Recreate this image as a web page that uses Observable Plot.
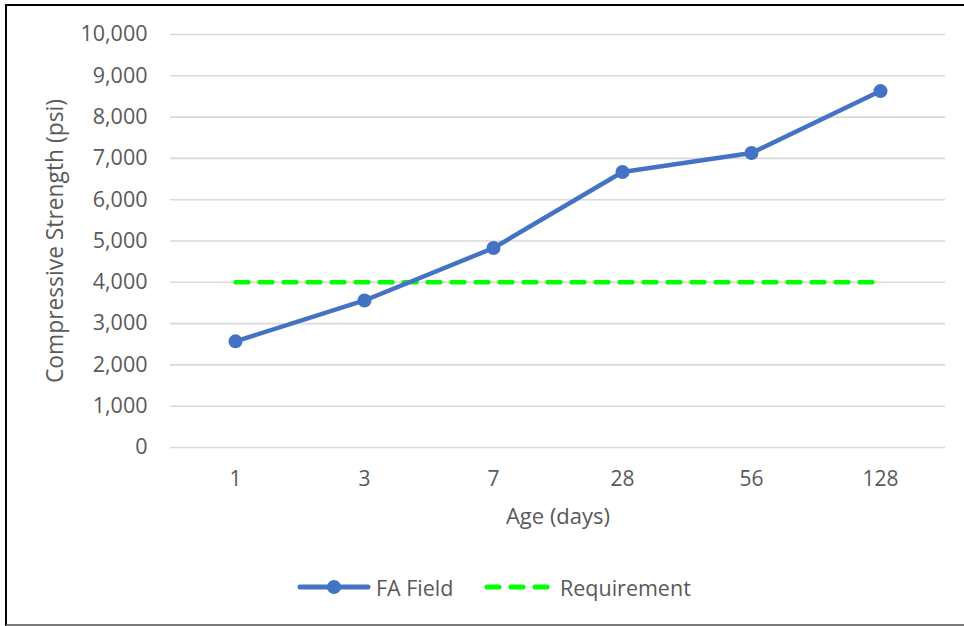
<!DOCTYPE html>
<html>
<head>
<meta charset="utf-8">
<script src="https://cdn.jsdelivr.net/npm/d3@7"></script>
<script src="https://cdn.jsdelivr.net/npm/@observablehq/plot@0.6"></script>
<style>
  html, body { margin: 0; padding: 0; background: #fff; overflow: hidden; width: 964px; height: 626px; }
  #frame { position: absolute; left: 5px; top: 4px; width: 980px; height: 618px;
           border-left: 2px solid #000; border-top: 2px solid #000; border-bottom: 2px solid #7a7a7a; }
  #chart { position: absolute; left: 0; top: 0; }
  #legend { position: absolute; left: 0; top: 570px; width: 964px; height: 34px;
            font-family: "Open Sans", sans-serif; font-size: 21.5px; color: #595959; }
  #legend .item { position: absolute; top: 0; display: flex; align-items: center; height: 34px; }
  #legend svg { display: block; }
</style>
</head>
<body>
<div id="frame"></div>
<div id="chart"></div>
<div id="legend"></div>
<script>
const ages = ["1", "3", "7", "28", "56", "128"];
const faField = [2570, 3560, 4830, 6670, 7130, 8630];
const requirement = [4000, 4000, 4000, 4000, 4000, 4000];
const yTicks = [0, 1000, 2000, 3000, 4000, 5000, 6000, 7000, 8000, 9000, 10000];
const seriesNames = ["FA Field", "Requirement"];
const seriesColors = ["#4472C4", "#00FF00"];

const faData = ages.map((a, i) => ({age: a, value: faField[i]}));
const reqData = ages.map((a, i) => ({age: a, value: requirement[i]}));

const chart = Plot.plot({
  width: 964,
  height: 545,
  marginLeft: 170,
  marginRight: 19,
  marginTop: 34,
  marginBottom: 98,
  style: {fontFamily: "Open Sans, sans-serif", fontSize: "21.5px", color: "#595959", background: "transparent"},
  x: {type: "point", domain: ages, padding: 0.5, label: "Age (days)"},
  y: {domain: [0, 10000], label: "Compressive Strength (psi)"},
  marks: [
    Plot.ruleY(yTicks, {stroke: "#d9d9d9", strokeWidth: 1.6}),
    Plot.axisY({ticks: yTicks, tickFormat: d3.format(","), tickSize: 0, tickPadding: 23,
      fontSize: 21.5, fill: "#595959", label: "Compressive Strength (psi)", labelAnchor: "center",
      labelArrow: "none", labelOffset: 124}),
    Plot.axisX({tickSize: 0, tickPadding: 24, fontSize: 21, fill: "#595959",
      label: "Age (days)", labelAnchor: "center", labelArrow: "none", labelOffset: 76}),
    Plot.lineY(reqData, {x: "age", y: "value", stroke: seriesColors[1], strokeWidth: 4.5,
      strokeDasharray: "13,11", strokeLinecap: "round"}),
    Plot.lineY(faData, {x: "age", y: "value", stroke: seriesColors[0], strokeWidth: 4.5,
      strokeLinecap: "round", strokeLinejoin: "round"}),
    Plot.dot(faData, {x: "age", y: "value", r: 7, fill: seriesColors[0], stroke: "none"})
  ]
});
document.getElementById("chart").appendChild(chart);
// axis titles slightly larger than the tick labels
chart.querySelectorAll('[aria-label="y-axis label"], [aria-label="y-axis label"] text').forEach(t => t.setAttribute("font-size", "22.8"));
chart.querySelectorAll('[aria-label="x-axis label"], [aria-label="x-axis label"] text').forEach(t => t.setAttribute("font-size", "22"));

// Legend
const legend = document.getElementById("legend");
const ns = "http://www.w3.org/2000/svg";
function item(left, swatch, text) {
  const div = document.createElement("div");
  div.className = "item";
  div.style.left = left + "px";
  div.appendChild(swatch);
  const span = document.createElement("span");
  span.textContent = text;
  span.style.marginLeft = "5px";
  div.appendChild(span);
  legend.appendChild(div);
}
function mk(tag, attrs) {
  const e = document.createElementNS(ns, tag);
  for (const k in attrs) e.setAttribute(k, attrs[k]);
  return e;
}
const s1 = mk("svg", {width: 74, height: 20});
s1.appendChild(mk("line", {x1: 3, y1: 10, x2: 71, y2: 10, stroke: seriesColors[0], "stroke-width": 5, "stroke-linecap": "round"}));
s1.appendChild(mk("circle", {cx: 37, cy: 10, r: 7, fill: seriesColors[0]}));
item(297, s1, seriesNames[0]);
const s2 = mk("svg", {width: 72, height: 20});
s2.appendChild(mk("line", {x1: 4, y1: 10, x2: 66, y2: 10, stroke: seriesColors[1], "stroke-width": 5, "stroke-linecap": "round", "stroke-dasharray": "12,12"}));
item(483, s2, seriesNames[1]);
</script>
</body>
</html>
